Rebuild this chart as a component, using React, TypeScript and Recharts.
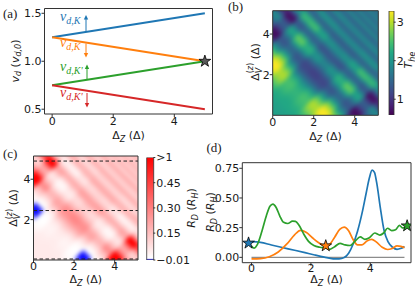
import React from 'react';
import {
  ComposedChart, ScatterChart, BarChart, Line, Scatter, Bar,
  XAxis, YAxis, ReferenceArea, ReferenceLine,
} from 'recharts';

// ---------- (a) drift velocities: end points of the four straight lines
const dzEnds = [0, 5];
const vKUp = [1.25, 1.5];
const vKDown = [1.25, 1.0];
const vKpUp = [0.75, 1.0];
const vKpDown = [0.75, 0.5];
const starA = [{ x: 5, y: 1.0 }];

// ---------- (d) cuts R_D(Δz) as [Δz, R_D]
const cutBlue = [[0, 0.132], [0.3, 0.126], [0.67, 0.104], [1.0, 0.085], [1.45, 0.06], [1.8, 0.04], [2.13, 0.02], [2.45, 0.002], [2.75, -0.012], [2.95, -0.013], [3.12, -0.002], [3.27, 0.035], [3.42, 0.11], [3.57, 0.22], [3.72, 0.37], [3.86, 0.54], [3.97, 0.67], [4.06, 0.735], [4.14, 0.715], [4.22, 0.62], [4.33, 0.43], [4.46, 0.23], [4.6, 0.13], [4.75, 0.085], [4.9, 0.068], [5.02, 0.074], [5.15, 0.092]];
const cutOrange = [[0, -0.012], [0.3, -0.01], [0.6, 0.005], [0.9, 0.045], [1.2, 0.115], [1.45, 0.19], [1.65, 0.228], [1.85, 0.21], [2.05, 0.165], [2.25, 0.125], [2.45, 0.1], [2.62, 0.11], [2.8, 0.17], [2.97, 0.235], [3.12, 0.255], [3.27, 0.225], [3.42, 0.15], [3.57, 0.105], [3.72, 0.105], [3.9, 0.14], [4.05, 0.152], [4.2, 0.13], [4.4, 0.085], [4.58, 0.066], [4.74, 0.075], [4.9, 0.096], [5.03, 0.092], [5.15, 0.082]];
const cutGreen = [[0, 0.095], [0.08, 0.078], [0.2, 0.11], [0.35, 0.22], [0.5, 0.35], [0.62, 0.43], [0.72, 0.448], [0.83, 0.42], [0.95, 0.35], [1.08, 0.295], [1.22, 0.285], [1.38, 0.305], [1.48, 0.303], [1.6, 0.27], [1.75, 0.2], [1.92, 0.135], [2.1, 0.1], [2.3, 0.085], [2.5, 0.08], [2.64, 0.068], [2.8, 0.09], [2.98, 0.118], [3.15, 0.105], [3.32, 0.1], [3.5, 0.14], [3.66, 0.172], [3.82, 0.152], [3.97, 0.165], [4.15, 0.205], [4.32, 0.188], [4.45, 0.205], [4.58, 0.245], [4.72, 0.225], [4.85, 0.232], [4.98, 0.27], [5.08, 0.248], [5.15, 0.25]];
const cutZero = [[0, 0], [5.15, 0]];
const starBlue = [{ x: -0.1, y: 0.12 }];
const starOrange = [{ x: 2.5, y: 0.097 }];
const starGreen = [{ x: 5.24, y: 0.265 }];

// ---------- (b), (c) maps on a rotated lattice:
// rows of constant d = Δz − ΔV (|d| = 0.8·m, same row used for ±d, the maps are symmetric),
// values along s = Δz + ΔV, cell k centred at s = 0.25·(k + 0.5), first cell k0
const HEAT_MAX = 5.15;
const S_STEP = 0.25;
const D_STEP = 0.8;

const theRow0 = [2.1, 2.1, 2.1, 2.15, 2.2, 2.2, 2.25, 2.3, 2.35, 2.35, 2.3, 2.15, 1.9, 1.6, 1.35, 1.15, 1.1, 1.2, 1.45, 1.75, 1.85, 1.6, 1.3, 1.35, 1.7, 1.95, 1.75, 1.35, 1.5, 1.95, 1.7, 1.4, 1.85, 1.7, 1.4, 1.9, 1.45, 1.85, 1.45, 1.8, 1.5, 1.75];
const theRow1 = [2.1, 2.1, 2.15, 2.2, 2.25, 2.3, 2.4, 2.45, 2.5, 2.45, 2.3, 2.0, 1.65, 1.35, 1.2, 1.15, 1.25, 1.55, 1.9, 2.0, 1.75, 1.3, 1.3, 1.7, 2.0, 1.8, 1.35, 1.5, 1.95, 1.7, 1.4, 1.85, 1.7, 1.4, 1.9, 1.45, 1.85, 1.45, 1.8];
const theRow2 = [2.2, 2.35, 2.5, 2.7, 2.85, 2.95, 2.95, 2.8, 2.5, 2.1, 1.7, 1.4, 1.3, 1.45, 1.9, 2.25, 2.3, 2.0, 1.5, 1.4, 1.8, 2.2, 2.0, 1.45, 1.5, 2.0, 1.8, 1.4, 1.85, 1.75, 1.4, 1.85, 1.5];
const theRow3 = [2.8, 3.1, 3.25, 3.3, 3.2, 2.95, 2.6, 2.15, 1.7, 1.45, 1.55, 2.0, 2.5, 2.65, 2.3, 1.6, 1.4, 1.9, 2.5, 2.3, 1.5, 1.5, 2.0, 1.8, 1.4, 1.8, 1.7];
const theRow4 = [3.1, 2.9, 2.6, 2.2, 1.8, 1.5, 1.3, 1.35, 1.6, 2.0, 2.2, 1.9, 1.4, 1.3, 1.8, 2.4, 2.3, 1.6, 1.4, 1.8, 1.9];
const theRow5 = [1.5, 1.1, 0.8, 0.65, 0.75, 1.1, 1.35, 1.4, 1.1, 0.7, 0.75, 1.3, 1.9, 2.0];
const theRow6 = [1.3, 1.3, 1.4, 1.7, 1.9, 1.6, 1.0, 0.9];

const rdRow0 = [0.05, 0.05, 0.05, 0.05, 0.05, 0.05, 0.045, 0.045, 0.04, 0.04, 0.045, 0.06, 0.1, 0.15, 0.21, 0.27, 0.29, 0.25, 0.18, 0.12, 0.105, 0.15, 0.22, 0.21, 0.13, 0.09, 0.12, 0.21, 0.17, 0.09, 0.13, 0.2, 0.105, 0.13, 0.2, 0.1, 0.18, 0.105, 0.18, 0.11, 0.17, 0.12];
const rdRow1 = [0.05, 0.05, 0.05, 0.05, 0.045, 0.045, 0.035, 0.03, 0.025, 0.03, 0.045, 0.08, 0.14, 0.21, 0.25, 0.27, 0.24, 0.16, 0.1, 0.08, 0.12, 0.22, 0.22, 0.13, 0.08, 0.11, 0.21, 0.17, 0.09, 0.13, 0.2, 0.105, 0.13, 0.2, 0.1, 0.18, 0.105, 0.18, 0.11];
const rdRow2 = [0.05, 0.04, 0.025, 0.012, 0.005, 0.0, 0.0, 0.007, 0.025, 0.07, 0.13, 0.2, 0.22, 0.18, 0.1, 0.05, 0.045, 0.08, 0.17, 0.2, 0.11, 0.055, 0.08, 0.18, 0.17, 0.08, 0.11, 0.2, 0.105, 0.12, 0.2, 0.105, 0.17];
const rdRow3 = [0.007, -0.005, -0.009, -0.01, -0.008, 0.0, 0.018, 0.06, 0.13, 0.18, 0.16, 0.08, 0.025, 0.015, 0.045, 0.15, 0.2, 0.1, 0.025, 0.045, 0.17, 0.17, 0.08, 0.11, 0.2, 0.11, 0.13];
const rdRow4 = [-0.005, 0.003, 0.018, 0.055, 0.11, 0.17, 0.28, 0.25, 0.15, 0.08, 0.055, 0.1, 0.2, 0.22, 0.11, 0.035, 0.045, 0.15, 0.2, 0.11, 0.1];
const rdRow5 = [0.25, 0.4, 0.6, 0.8, 0.65, 0.35, 0.21, 0.2, 0.35, 0.75, 0.7, 0.28, 0.1, 0.08];
const rdRow6 = [0.3, 0.35, 0.25, 0.13, 0.1, 0.15, 0.4, 0.45];

const rowStarts = [0, 1, 4, 7, 10, 13, 16];

// colour bar ranges and ticks
const theTicks = [1, 2, 3];
const T_MIN = 0.59;
const T_MAX = 3.29;
const rdTicks = [-0.01, 0.15, 0.3, 0.45, 0.6];
const R_MIN = -0.01;
const R_MAX = 0.6;
const cutLevels = [0.05, 2.45, 4.9];

type Cell = { x: number; y: number; v: number };

function latticeCells(rows: number[][]): Cell[] {
  const cells: Cell[] = [];
  rows.forEach((vals, m) => {
    const ds = m === 0 ? [0] : [m * D_STEP, -m * D_STEP];
    ds.forEach((d) => {
      vals.forEach((val, j) => {
        const s = S_STEP * (rowStarts[m] + j + 0.5);
        cells.push({ x: (s + d) / 2, y: (s - d) / 2, v: val });
      });
    });
  });
  return cells;
}

const theCells = latticeCells([theRow0, theRow1, theRow2, theRow3, theRow4, theRow5, theRow6]);
const rdCells = latticeCells([rdRow0, rdRow1, rdRow2, rdRow3, rdRow4, rdRow5, rdRow6]);

const VIRIDIS = ['#440154', '#482475', '#414487', '#355f8d', '#2a788e', '#21918c', '#22a884', '#44bf70', '#7ad151', '#bddf26', '#fde725'];
const hex = (h: string) => [1, 3, 5].map((i) => parseInt(h.slice(i, i + 2), 16));
function viridis(t: number) {
  const c = Math.max(0, Math.min(1, t)) * 10;
  const i = Math.min(9, Math.floor(c));
  const f = c - i;
  const a = hex(VIRIDIS[i]);
  const b = hex(VIRIDIS[i + 1]);
  return `rgb(${a.map((q, j) => Math.round(q + (b[j] - q) * f)).join(',')})`;
}
const theColor = (v: number) => viridis((v - T_MIN) / (T_MAX - T_MIN));
function rdColor(v: number) {
  if (v >= 0) {
    const g = Math.round(255 * (1 - Math.min(v / R_MAX, 1)));
    return `rgb(255,${g},${g})`;
  }
  const g = Math.round(255 * (1 - Math.min(v / R_MIN, 1)));
  return `rgb(${g},${g},255)`;
}

const FONT = 'DejaVu Sans';
const INK = '#1a1a1a';
const FRAME = '#333';
const tickFont = { fontSize: 11, fill: INK, fontFamily: FONT };

function cellShape(color: (v: number) => string, kx: number, ky: number) {
  const hs = (S_STEP / 4) * 1.25;
  const hd = (D_STEP / 4) * 1.1;
  return (p: any) => {
    const { cx, cy, payload } = p;
    if (cx == null || cy == null) return <g />;
    const us = [hs * kx, -hs * ky];
    const ud = [hd * kx, hd * ky];
    const pts = [[1, 1], [1, -1], [-1, -1], [-1, 1]]
      .map(([a, b]) => `${cx + a * us[0] + b * ud[0]},${cy + a * us[1] + b * ud[1]}`)
      .join(' ');
    return <polygon points={pts} fill={color(payload.v)} />;
  };
}

function starShape(fill: string) {
  return (p: any) => {
    const { cx, cy } = p;
    const pts: string[] = [];
    for (let i = 0; i < 10; i++) {
      const a = -Math.PI / 2 + (i * Math.PI) / 5;
      const r = i % 2 === 0 ? 6.2 : 2.4;
      pts.push(`${cx + r * Math.cos(a)},${cy + r * Math.sin(a)}`);
    }
    return <polygon points={pts.join(' ')} fill={fill} stroke="#000" strokeWidth={0.8} />;
  };
}

function Heatmap(props: {
  cells: Cell[]; color: (v: number) => string; w: number; h: number;
  top: number; right: number; yw: number; xh: number; dashed?: number[];
}) {
  const { cells, color, w, h, top, right, yw, xh, dashed = [] } = props;
  const kx = (w - right - yw) / HEAT_MAX;
  const ky = (h - top - xh) / HEAT_MAX;
  return (
    <ScatterChart width={w} height={h} margin={{ top, right, bottom: 0, left: 0 }}>
      <XAxis type="number" dataKey="x" domain={[0, HEAT_MAX]} ticks={[0, 2, 4]} allowDataOverflow
        height={xh} axisLine={false} tickLine={{ stroke: FRAME }} tickSize={3} tickMargin={-0.5} tick={tickFont} interval={0} />
      <YAxis type="number" dataKey="y" domain={[0, HEAT_MAX]} ticks={[2, 4]} allowDataOverflow
        width={yw} axisLine={false} tickLine={{ stroke: FRAME }} tickSize={3} tickMargin={0} tick={tickFont} interval={0} />
      <Scatter data={cells} shape={cellShape(color, kx, ky)} isAnimationActive={false} />
      {dashed.map((y) => (
        <ReferenceLine key={y} y={y} stroke="#222" strokeWidth={1} strokeDasharray="3.5 2.5" zIndex={1500} />
      ))}
      <ReferenceArea x1={0} x2={HEAT_MAX} y1={0} y2={HEAT_MAX} fill="none" stroke={FRAME} strokeWidth={1} zIndex={1600} />
    </ScatterChart>
  );
}

function ColorBar(props: {
  w: number; h: number; top: number; bottom: number; left: number; yw: number;
  lo: number; hi: number; ticks: number[]; fill: string; fmt: (v: number) => string;
}) {
  const { w, h, top, bottom, left, yw, lo, hi, ticks, fill, fmt } = props;
  return (
    <BarChart width={w} height={h} data={[{ name: 'cb', span: [lo, hi] }]}
      margin={{ top, right: 0, bottom, left }} barCategoryGap={0} barGap={0}>
      <XAxis dataKey="name" hide />
      <YAxis type="number" orientation="right" domain={[lo, hi]} ticks={ticks} allowDataOverflow width={yw}
        axisLine={false} tickLine={{ stroke: FRAME }} tickSize={2} tickMargin={1} tick={tickFont}
        tickFormatter={fmt} interval={0} />
      <Bar dataKey="span" fill={fill} stroke={FRAME} strokeWidth={0.8} isAnimationActive={false} />
    </BarChart>
  );
}

const panelA = dzEnds.map((x, i) => ({ x, kUp: vKUp[i], kDown: vKDown[i], kpUp: vKpUp[i], kpDown: vKpDown[i] }));
const pts = (a: number[][]) => a.map(([x, y]) => ({ x, y }));

function Sub({ children, dy = 2.5, size = 8 }: { children: React.ReactNode; dy?: number; size?: number }) {
  return <tspan fontSize={size} fontStyle="italic" dy={dy}>{children}</tspan>;
}

function DzTitle({ x, y }: { x: number; y: number }) {
  return (
    <text x={x} y={y} textAnchor="middle" fontSize={11} fontFamily={FONT} fill={INK}>
      Δ<Sub>Z</Sub><tspan dy={-2.5}>{' (Δ)'}</tspan>
    </text>
  );
}

function Rot({ x, y, children }: { x: number; y: number; children: React.ReactNode }) {
  return (
    <g transform={`rotate(-90 ${x} ${y})`}>
      <text x={x} y={y} textAnchor="middle" fontSize={11} fontFamily={FONT} fill={INK}>{children}</text>
    </g>
  );
}

const dvTitle = (
  <>
    Δ<Sub dy={3}>V</Sub><tspan fontSize={8} dx={-5.5} dy={-8.5}>(<tspan fontStyle="italic">z</tspan>)</tspan>
    <tspan dy={5.5}>{' (Δ)'}</tspan>
  </>
);
const rdTitle = (
  <>
    <tspan fontStyle="italic">R</tspan><Sub>D</Sub><tspan dy={-2.5}>{' ('}</tspan>
    <tspan fontStyle="italic">R</tspan><Sub>H</Sub><tspan dy={-2.5}>)</tspan>
  </>
);

function Arrow({ x, y1, y2, color }: { x: number; y1: number; y2: number; color: string }) {
  const dir = y2 < y1 ? 1 : -1;
  return (
    <g>
      <line x1={x} y1={y1} x2={x} y2={y2 + dir * 3} stroke={color} strokeWidth={1} />
      <polygon points={`${x},${y2} ${x - 2.2},${y2 + dir * 4.5} ${x + 2.2},${y2 + dir * 4.5}`} fill={color} />
    </g>
  );
}

function VdTag({ x, y, color, prime }: { x: number; y: number; color: string; prime?: boolean }) {
  return (
    <text x={x} y={y} fontSize={14} fontFamily="Liberation Serif" fontStyle="italic" fill={color}>
      v<tspan fontSize={10} dy={3}>{prime ? "d,K'" : 'd,K'}</tspan>
    </text>
  );
}

const BLUE = '#1f77b4';
const ORANGE = '#ff7f0e';
const GREEN = '#2ca02c';
const RED = '#d62728';

export default function App() {
  const abs = (left: number, top: number): React.CSSProperties => ({ position: 'absolute', left, top });
  return (
    <div style={{ position: 'absolute', left: 0, top: 0, width: 415, height: 287, background: '#fff', overflow: 'hidden', fontFamily: FONT }}>
      <style>{'.heatB .recharts-scatter{filter:url(#smoothB)} .heatC .recharts-scatter{filter:url(#smoothC)}'}</style>
      <svg width={0} height={0} style={{ position: 'absolute' }}>
        <defs>
          <filter id="smoothB" filterUnits="userSpaceOnUse" x={42.7} y={10.7} width={105.6} height={104.6} colorInterpolationFilters="sRGB">
            <feGaussianBlur stdDeviation={2.2} />
            <feComponentTransfer><feFuncA type="table" tableValues="1 1" /></feComponentTransfer>
          </filter>
          <filter id="smoothC" filterUnits="userSpaceOnUse" x={33.5} y={11} width={104.5} height={104} colorInterpolationFilters="sRGB">
            <feGaussianBlur stdDeviation={2.2} />
            <feComponentTransfer><feFuncA type="table" tableValues="1 1" /></feComponentTransfer>
          </filter>
          <linearGradient id="gradB" x1="0" y1="1" x2="0" y2="0">
            {VIRIDIS.map((c, i) => <stop key={i} offset={i / 10} stopColor={c} />)}
          </linearGradient>
          <linearGradient id="gradC" x1="0" y1="1" x2="0" y2="0">
            <stop offset={0} stopColor="#0000ff" />
            <stop offset={-R_MIN / (R_MAX - R_MIN)} stopColor="#ffffff" />
            <stop offset={1} stopColor="#ff0000" />
          </linearGradient>
        </defs>
      </svg>

      {/* (a) */}
      <div style={abs(0, 0)}>
        <ComposedChart width={220} height={132} data={panelA} margin={{ top: 8.5, right: 7.5, bottom: 0, left: 0 }}>
          <XAxis type="number" dataKey="x" domain={[-0.25, 5.25]} ticks={[0, 2, 4]} allowDataOverflow height={18}
            axisLine={false} tickLine={{ stroke: FRAME }} tickSize={3} tickMargin={0} tick={tickFont} interval={0} />
          <YAxis type="number" domain={[0.45, 1.55]} ticks={[0.5, 1.0, 1.5]} allowDataOverflow width={44.5}
            axisLine={false} tickLine={{ stroke: FRAME }} tickSize={3} tickMargin={0} tick={tickFont}
            tickFormatter={(v: number) => v.toFixed(1)} interval={0} />
          <Line dataKey="kUp" type="linear" stroke={BLUE} strokeWidth={2} dot={false} isAnimationActive={false} />
          <Line dataKey="kDown" type="linear" stroke={ORANGE} strokeWidth={2} dot={false} isAnimationActive={false} />
          <Line dataKey="kpUp" type="linear" stroke={GREEN} strokeWidth={2} dot={false} isAnimationActive={false} />
          <Line dataKey="kpDown" type="linear" stroke={RED} strokeWidth={2} dot={false} isAnimationActive={false} />
          <Scatter data={starA} dataKey="y" shape={starShape('#595959')} isAnimationActive={false} />
          <ReferenceArea x1={-0.25} x2={5.25} y1={0.45} y2={1.55} fill="none" stroke={FRAME} strokeWidth={1} zIndex={1600} />
        </ComposedChart>
      </div>

      {/* (b) */}
      <div className="heatB" style={abs(230, 0)}>
        <Heatmap cells={theCells} color={theColor} w={155} h={135} top={10.7} right={6.7} yw={42.7} xh={19.7} />
      </div>
      <div style={abs(380, 0)}>
        <ColorBar w={35} h={135} top={11} bottom={20} left={9} yw={21.3} lo={T_MIN} hi={T_MAX}
          ticks={theTicks} fill="url(#gradB)" fmt={(v) => String(v)} />
      </div>

      {/* (c) */}
      <div className="heatC" style={abs(0, 145)}>
        <Heatmap cells={rdCells} color={rdColor} w={145} h={142} top={11} right={7} yw={33.5} xh={27} dashed={cutLevels} />
      </div>
      <div style={abs(140, 145)}>
        <ColorBar w={55} h={142} top={12.5} bottom={27} left={6.7} yw={41.7} lo={R_MIN} hi={R_MAX}
          ticks={rdTicks} fill="url(#gradC)"
          fmt={(v) => (v >= R_MAX - 0.001 ? '>1' : v < 0 ? '\u22120.01' : v.toFixed(2))} />
      </div>

      {/* (d) */}
      <div style={abs(205, 145)}>
        <ComposedChart width={210} height={142} margin={{ top: 17.7, right: 4, bottom: 0, left: 0 }}>
          <XAxis type="number" dataKey="x" domain={[-0.31, 5.37]} ticks={[0, 2, 4]} allowDataOverflow height={24.3}
            axisLine={false} tickLine={{ stroke: FRAME }} tickSize={3} tickMargin={-1.5} tick={tickFont} interval={0} />
          <YAxis type="number" domain={[-0.045, 0.797]} ticks={[0, 0.25, 0.5, 0.75]} allowDataOverflow width={37.3}
            axisLine={false} tickLine={{ stroke: FRAME }} tickSize={3} tickMargin={0} tick={tickFont}
            tickFormatter={(v: number) => v.toFixed(2)} interval={0} />
          <Line data={pts(cutZero)} dataKey="y" type="linear" stroke="#8c8c8c" strokeWidth={1.2} dot={false} isAnimationActive={false} />
          <Line data={pts(cutBlue)} dataKey="y" type="monotone" stroke={BLUE} strokeWidth={1.7} dot={false} isAnimationActive={false} />
          <Line data={pts(cutOrange)} dataKey="y" type="monotone" stroke={ORANGE} strokeWidth={1.7} dot={false} isAnimationActive={false} />
          <Line data={pts(cutGreen)} dataKey="y" type="monotone" stroke={GREEN} strokeWidth={1.7} dot={false} isAnimationActive={false} />
          <Scatter data={starBlue} dataKey="y" shape={starShape(BLUE)} isAnimationActive={false} />
          <Scatter data={starOrange} dataKey="y" shape={starShape(ORANGE)} isAnimationActive={false} />
          <Scatter data={starGreen} dataKey="y" shape={starShape(GREEN)} isAnimationActive={false} />
          <ReferenceArea x1={-0.31} x2={5.37} y1={-0.045} y2={0.797} fill="none" stroke={FRAME} strokeWidth={1} zIndex={1600} />
        </ComposedChart>
      </div>

      {/* titles, panel letters and annotations */}
      <svg width={415} height={287} style={{ position: 'absolute', left: 0, top: 0, pointerEvents: 'none' }}>
        <g fontFamily="Liberation Serif" fontSize={13} fill={INK}>
          <text x={3} y={17.5}>(a)</text>
          <text x={228} y={11}>(b)</text>
          <text x={3} y={157.5}>(c)</text>
          <text x={206.5} y={151.5}>(d)</text>
        </g>

        <VdTag x={60} y={21} color={BLUE} />
        <VdTag x={60} y={47} color={ORANGE} />
        <VdTag x={60} y={70.5} color={GREEN} prime />
        <VdTag x={60} y={97} color={RED} prime />
        <Arrow x={86} y1={32} y2={15} color={BLUE} />
        <Arrow x={86} y1={43.5} y2={57.5} color={ORANGE} />
        <Arrow x={87} y1={80} y2={64.5} color={GREEN} />
        <Arrow x={87} y1={93} y2={107.5} color={RED} />

        <DzTitle x={128.5} y={139} />
        <DzTitle x={325.5} y={139.5} />
        <DzTitle x={85.8} y={283} />
        <DzTitle x={326.5} y={283} />

        <Rot x={18.5} y={61}>
          <tspan fontStyle="italic">v</tspan><Sub>d</Sub><tspan dy={-2.5}>{' ('}</tspan>
          <tspan fontStyle="italic">v</tspan><Sub>d,0</Sub><tspan dy={-2.5}>)</tspan>
        </Rot>
        <Rot x={258.5} y={62}>{dvTitle}</Rot>
        <Rot x={17} y={208}>{dvTitle}</Rot>
        <Rot x={214} y={212}>{rdTitle}</Rot>
        <Rot x={195} y={208}>{rdTitle}</Rot>
        <Rot x={412} y={60}>
          <tspan fontStyle="italic">T</tspan><Sub>he</Sub>
        </Rot>
      </svg>
    </div>
  );
}
